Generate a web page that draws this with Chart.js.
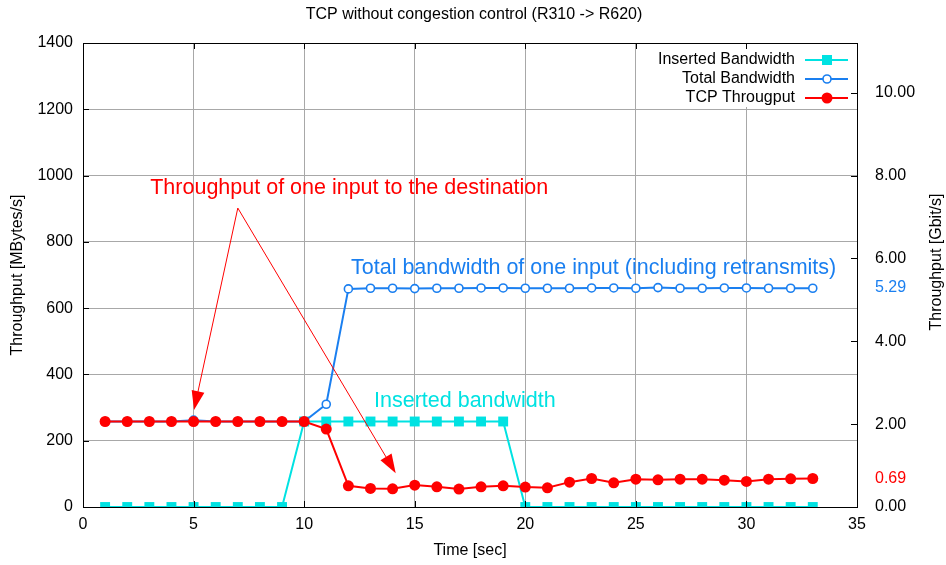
<!DOCTYPE html>
<html>
<head>
<meta charset="utf-8">
<script src="https://cdn.jsdelivr.net/npm/chart.js@4"></script>
<style>
  html, body { margin: 0; padding: 0; background: #fff; }
  #wrap { width: 946px; height: 565px; }
</style>
</head>
<body>
<div id="wrap"><canvas id="grafica"></canvas></div>
<script>
// datos
const seconds = [1, 2, 3, 4, 5, 6, 7, 8, 9, 10, 11, 12, 13, 14, 15, 16, 17, 18, 19, 20, 21, 22, 23, 24, 25, 26, 27, 28, 29, 30, 31, 32, 33];
const insertedBw = [0, 0, 0, 0, 0, 0, 0, 0, 0, 258, 258, 258, 258, 258, 258, 258, 258, 258, 258, 0, 0, 0, 0, 0, 0, 0, 0, 0, 0, 0, 0, 0, 0];
const totalBw = [258, 258, 258, 258, 262, 258, 258, 258, 258, 258, 310, 658, 660, 660, 659, 660, 660, 661, 661, 660, 660, 660, 661, 661, 660, 662, 660, 660, 661, 661, 660, 660, 660];
const tcpThroughput = [258, 258, 258, 258, 258, 258, 258, 258, 258, 258, 235, 64, 56, 55, 66, 61, 54, 61, 64, 60, 58, 75, 86, 73, 84, 82, 84, 84, 81, 77, 84, 85, 86];
const seriesNames = ['Inserted Bandwidth', 'Total Bandwidth', 'TCP Througput'];
const leftTicks = [0, 200, 400, 600, 800, 1000, 1200, 1400];
const rightTicks = [0, 2, 4, 6, 8, 10];
const rightMarks = [5.29, 0.69];
const xTicks = [0, 5, 10, 15, 20, 25, 30, 35];

const CYAN = '#00e2e2';
const BLUE = '#1a7ff0';
const RED = '#ff0000';
const FONT = '"Liberation Sans", Arial, sans-serif';

function puntos(vals) {
    return seconds.map((s, i) => ({ x: s, y: vals[i] }));
}

// texto y flechas en coordenadas de datos
const notas = [
    { text: 'Throughput of one input to the destination', x: 3.04, y: 962, color: RED },
    { text: 'Total bandwidth of one input (including retransmits)', x: 12.12, y: 720, color: BLUE },
    { text: 'Inserted bandwidth', x: 13.16, y: 321, color: CYAN }
];
const flechas = [
    { from: [7, 902], to: [5.02, 293] },
    { from: [7, 902], to: [14.14, 102] }
];

const extras = {
    id: 'extras',
    afterDatasetsDraw(chart) {
        const c = chart.ctx;
        const a = chart.chartArea;
        const sx = chart.scales.x, sy = chart.scales.y, sy2 = chart.scales.y2;
        c.save();

        // caja de leyenda
        c.fillStyle = '#fff';
        c.fillRect(650, a.top + 1, a.right - 651, 63);
        c.font = '16px ' + FONT;
        c.textAlign = 'right';
        c.textBaseline = 'middle';
        chart.data.datasets.forEach((ds, i) => {
            const yy = 60 + i * 19;
            c.fillStyle = '#000';
            c.fillText(ds.label, 795, yy);
            c.strokeStyle = ds.borderColor;
            c.lineWidth = 2;
            c.beginPath();
            c.moveTo(805, yy);
            c.lineTo(848, yy);
            c.stroke();
            const mx = 827;
            if (i === 0) {
                c.fillStyle = ds.borderColor;
                c.fillRect(mx - 5, yy - 5, 10, 10);
            } else if (i === 1) {
                c.fillStyle = '#fff';
                c.lineWidth = 1.6;
                c.beginPath();
                c.arc(mx, yy, 4, 0, Math.PI * 2);
                c.fill();
                c.stroke();
            } else {
                c.fillStyle = ds.borderColor;
                c.beginPath();
                c.arc(mx, yy, 5.5, 0, Math.PI * 2);
                c.fill();
            }
        });

        // marco
        c.strokeStyle = '#000';
        c.lineWidth = 1;
        c.strokeRect(a.left + 0.5, a.top + 0.5, a.right - a.left, a.bottom - a.top);

        // marcas hacia dentro
        c.beginPath();
        xTicks.forEach(v => {
            const px = Math.round(sx.getPixelForValue(v)) + 0.5;
            c.moveTo(px, a.bottom); c.lineTo(px, a.bottom - 6);
            c.moveTo(px, a.top); c.lineTo(px, a.top + 6);
        });
        leftTicks.forEach(v => {
            const py = Math.round(sy.getPixelForValue(v)) + 0.5;
            c.moveTo(a.left, py); c.lineTo(a.left + 6, py);
        });
        rightTicks.forEach(v => {
            const py = Math.round(sy2.getPixelForValue(v)) + 0.5;
            c.moveTo(a.right, py); c.lineTo(a.right - 6, py);
        });
        c.stroke();

        // flechas
        c.strokeStyle = RED;
        c.fillStyle = RED;
        c.lineWidth = 1;
        flechas.forEach(f => {
            const x0 = sx.getPixelForValue(f.from[0]), y0 = sy.getPixelForValue(f.from[1]);
            const x1 = sx.getPixelForValue(f.to[0]), y1 = sy.getPixelForValue(f.to[1]);
            const ang = Math.atan2(y1 - y0, x1 - x0);
            const len = 20, half = 0.33;
            c.beginPath();
            c.moveTo(x0, y0);
            c.lineTo(x1 - Math.cos(ang) * len * 0.9, y1 - Math.sin(ang) * len * 0.9);
            c.stroke();
            c.beginPath();
            c.moveTo(x1, y1);
            c.lineTo(x1 - len * Math.cos(ang - half), y1 - len * Math.sin(ang - half));
            c.lineTo(x1 - len * Math.cos(ang + half), y1 - len * Math.sin(ang + half));
            c.closePath();
            c.fill();
        });

        // textos
        c.font = '21.5px ' + FONT;
        c.textAlign = 'left';
        c.textBaseline = 'middle';
        notas.forEach(n => {
            c.fillStyle = n.color;
            c.fillText(n.text, sx.getPixelForValue(n.x), sy.getPixelForValue(n.y));
        });

        // titulo y ejes
        c.fillStyle = '#000';
        c.font = '16px ' + FONT;
        c.textAlign = 'center';
        c.fillText('TCP without congestion control (R310 -> R620)', 474, 15);
        c.fillText('Time [sec]', 470, 551);
        c.save();
        c.translate(18, 275);
        c.rotate(-Math.PI / 2);
        c.fillText('Throughput [MBytes/s]', 0, 0);
        c.restore();
        c.save();
        c.translate(937, 262);
        c.rotate(-Math.PI / 2);
        c.fillText('Throughput [Gbit/s]', 0, 0);
        c.restore();

        c.restore();
    }
};

const ctx = document.getElementById('grafica').getContext('2d');
new Chart(ctx, {
    type: 'line',
    data: {
        datasets: [{
            label: seriesNames[0],
            data: puntos(insertedBw),
            borderColor: CYAN,
            backgroundColor: CYAN,
            borderWidth: 2,
            pointStyle: 'rect',
            pointRadius: 7,
            pointBorderWidth: 0,
            order: 3
        }, {
            label: seriesNames[1],
            data: puntos(totalBw),
            borderColor: BLUE,
            backgroundColor: '#fff',
            borderWidth: 2,
            pointStyle: 'circle',
            pointRadius: 4,
            pointBorderWidth: 1.6,
            order: 2
        }, {
            label: seriesNames[2],
            data: puntos(tcpThroughput),
            borderColor: RED,
            backgroundColor: RED,
            borderWidth: 2,
            pointStyle: 'circle',
            pointRadius: 5.5,
            pointBorderWidth: 0,
            order: 1
        }]
    },
    options: {
        responsive: true,
        maintainAspectRatio: false,
        animation: false,
        layout: { padding: { top: 43, left: 0, right: 0, bottom: 0 } },
        plugins: {
            legend: { display: false },
            title: { display: false },
            tooltip: { enabled: false }
        },
        scales: {
            x: {
                type: 'linear',
                min: 0,
                max: 35,
                afterBuildTicks: s => { s.ticks = xTicks.map(v => ({ value: v })); },
                afterFit: s => { s.height = 58; },
                ticks: { color: '#000', font: { family: FONT, size: 16 }, padding: 8, autoSkip: false, maxRotation: 0, callback: v => String(v) },
                grid: { color: '#a8a8a8', drawTicks: false },
                border: { display: false }
            },
            y: {
                position: 'left',
                min: 0,
                max: 1400,
                afterBuildTicks: s => { s.ticks = leftTicks.map(v => ({ value: v })); },
                afterFit: s => { s.width = 83; },
                ticks: { color: '#000', font: { family: FONT, size: 16 }, padding: 10, autoSkip: false, callback: v => String(v) },
                grid: { color: '#a8a8a8', drawTicks: false },
                border: { display: false }
            },
            y2: {
                position: 'right',
                min: 0,
                max: 1400 * 8 / 1000,
                afterBuildTicks: s => { s.ticks = rightTicks.concat(rightMarks).map(v => ({ value: v })); },
                afterFit: s => { s.width = 89; },
                ticks: {
                    color: c => c.tick.value === rightMarks[0] ? BLUE : (c.tick.value === rightMarks[1] ? RED : '#000'),
                    font: { family: FONT, size: 16 },
                    padding: 18,
                    autoSkip: false,
                    callback: v => v.toFixed(2)
                },
                grid: { drawOnChartArea: false, drawTicks: false },
                border: { display: false }
            }
        }
    },
    plugins: [extras]
});
</script>
</body>
</html>
